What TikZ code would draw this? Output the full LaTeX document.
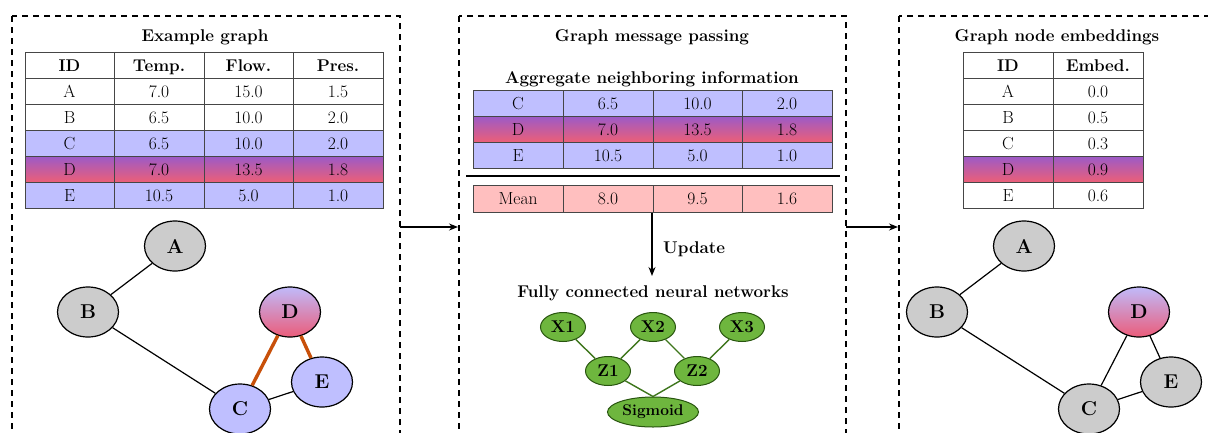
\documentclass[tikz,border=0pt]{standalone}
\usetikzlibrary{shapes.geometric,arrows.meta}
\definecolor{lav}{RGB}{191,191,255}
\definecolor{nodegray}{RGB}{204,204,204}
\definecolor{rowtop}{RGB}{155,90,200}
\definecolor{rowbot}{RGB}{235,95,120}
\definecolor{balltop}{RGB}{192,186,250}
\definecolor{ballbot}{RGB}{235,92,122}
\definecolor{meanpink}{RGB}{255,191,191}
\definecolor{nngreen}{RGB}{110,182,62}
\definecolor{nnedge}{RGB}{62,118,28}
\definecolor{nnborder}{RGB}{40,85,15}
\definecolor{hot}{RGB}{200,80,10}
\definecolor{rule}{RGB}{70,70,70}
\tikzset{
  panel/.style={draw, line width=1.2pt, dash pattern=on 6pt off 5pt},
  title/.style={font=\fontsize{17}{20}\selectfont\bfseries, anchor=base, inner sep=0pt},
  cell/.style={font=\fontsize{17.5}{20}\selectfont, inner sep=0pt, text height=12pt, text depth=0pt},
  headcell/.style={cell, font=\fontsize{17}{20}\selectfont\bfseries},
  gridline/.style={draw=rule, line width=0.9pt},
  gnode/.style={ellipse, draw, line width=1.2pt, minimum width=61pt, minimum height=50pt,
    inner sep=0pt, font=\fontsize{20}{24}\selectfont\bfseries},
  grey/.style={gnode, fill=nodegray},
  lavnode/.style={gnode, fill=lav},
  hotnode/.style={gnode, top color=balltop, bottom color=ballbot},
  plain/.style={line width=1.2pt},
  hotedge/.style={line width=3.4pt, draw=hot},
  nn/.style={ellipse, draw=nnborder, fill=nngreen, line width=1pt, minimum width=45pt,
    minimum height=29pt, inner sep=0pt, font=\fontsize{17}{20}\selectfont\bfseries},
  nnlink/.style={draw=nnedge, line width=1.4pt},
  flow/.style={line width=1.3pt, -{Stealth[length=9pt,width=7pt]}},
}
\begin{document}
\begin{tikzpicture}[x=1pt, y=-1pt]
\useasboundingbox (0,0) rectangle (1208,432);
\fill[white] (0,0) rectangle (1208,432);

% three dashed panels (their lower parts run off the page)
\draw[panel] (12,16) rectangle (400,450);
\draw[panel] (459,16) rectangle (846,450);
\draw[panel] (899,16) rectangle (1220,450);

% arrows between the panels
\coordinate (p1out) at (400,227);
\coordinate (p2in) at (458,227);
\coordinate (p2out) at (846,227);
\coordinate (p3in) at (898,227);
\draw[flow] (p1out) -- (p2in);
\draw[flow] (p2out) -- (p3in);

% ---------------- left panel: example graph ----------------
\node[title] (t1) at (205,41) {Example graph};
\fill[lav] (25,130) rectangle (383,156);
\shade[top color=rowtop, bottom color=rowbot] (25,156) rectangle (383,182);
\fill[lav] (25,182) rectangle (383,208);
\draw[gridline] (25,52) rectangle (383,208);
\foreach \x in {114,204,293} \draw[gridline] (\x,52) -- (\x,208);
\foreach \y in {78,104,130,156,182} \draw[gridline] (25,\y) -- (383,\y);
\node[headcell] (lh1) at (69.5,65) {ID};
\node[headcell] (lh2) at (159,65) {Temp.};
\node[headcell] (lh3) at (248.5,65) {Flow.};
\node[headcell] (lh4) at (338,65) {Pres.};
\foreach [count=\i] \a/\b/\c/\d in {A/7.0/15.0/1.5, B/6.5/10.0/2.0, C/6.5/10.0/2.0, D/7.0/13.5/1.8, E/10.5/5.0/1.0} {
  \node[cell] (l\i a) at (69.5,65+26*\i) {\a};
  \node[cell] (l\i b) at (159,65+26*\i) {\b};
  \node[cell] (l\i c) at (248.5,65+26*\i) {\c};
  \node[cell] (l\i d) at (338,65+26*\i) {\d};
}
\node[grey] (gA) at (175,246) {A};
\node[grey] (gB) at (88,312) {B};
\node[hotnode] (gD) at (290,312) {D};
\node[lavnode] (gE) at (322,382) {E};
\node[lavnode] (gC) at (240,409) {C};
\draw[plain] (gA) -- (gB);
\draw[plain] (gB) -- (gC);
\draw[plain] (gC) -- (gE);
\draw[hotedge] (gD) -- (gC);
\draw[hotedge] (gD) -- (gE);

% ---------------- middle panel: message passing ----------------
\node[title] (t2) at (652,41) {Graph message passing};
\node[title] (t2a) at (652,83) {Aggregate neighboring information};
\fill[lav] (473,90) rectangle (832,116);
\shade[top color=rowtop, bottom color=rowbot] (473,116) rectangle (832,142);
\fill[lav] (473,142) rectangle (832,168);
\draw[gridline] (473,90) rectangle (832,168);
\foreach \x in {563,653,742} \draw[gridline] (\x,90) -- (\x,168);
\foreach \y in {116,142} \draw[gridline] (473,\y) -- (832,\y);
\foreach [count=\i] \a/\b/\c/\d in {C/6.5/10.0/2.0, D/7.0/13.5/1.8, E/10.5/5.0/1.0} {
  \node[cell] (m\i a) at (518,77+26*\i) {\a};
  \node[cell] (m\i b) at (608,77+26*\i) {\b};
  \node[cell] (m\i c) at (697.5,77+26*\i) {\c};
  \node[cell] (m\i d) at (787,77+26*\i) {\d};
}
\draw[line width=2.6pt] (466,176) -- (840,176);
\fill[meanpink] (473,185) rectangle (832,212);
\draw[gridline] (473,185) rectangle (832,212);
\foreach \x in {563,653,742} \draw[gridline] (\x,185) -- (\x,212);
\node[cell] (mean) at (518,198.5) {Mean};
\node[cell] (meanb) at (608,198.5) {8.0};
\node[cell] (meanc) at (697.5,198.5) {9.5};
\node[cell] (meand) at (787,198.5) {1.6};

\coordinate (upstart) at (652,213);
\coordinate (upend) at (652,276);
\draw[flow] (upstart) -- (upend);
\node[title, anchor=base west] (upd) at (663,253) {Update};
\node[title] (t2b) at (653,297) {Fully connected neural networks};

\node[nn] (x1) at (563,327) {X1};
\node[nn] (x2) at (653,327) {X2};
\node[nn] (x3) at (742,327) {X3};
\node[nn] (z1) at (608,371) {Z1};
\node[nn] (z2) at (697,371) {Z2};
\node[nn, minimum width=91pt, minimum height=30pt, font=\fontsize{15.5}{18}\selectfont\bfseries] (sg) at (653,412) {Sigmoid};
\draw[nnlink] (x1) -- (z1);
\draw[nnlink] (x2) -- (z1);
\draw[nnlink] (x2) -- (z2);
\draw[nnlink] (x3) -- (z2);
\draw[nnlink] (z1) -- (sg.north);
\draw[nnlink] (z2) -- (sg.north);

% ---------------- right panel: node embeddings ----------------
\node[title] (t3) at (1057,41) {Graph node embeddings};
\shade[top color=rowtop, bottom color=rowbot] (963,156) rectangle (1143,182);
\draw[gridline] (963,52) rectangle (1143,208);
\draw[gridline] (1053,52) -- (1053,208);
\foreach \y in {78,104,130,156,182} \draw[gridline] (963,\y) -- (1143,\y);
\node[headcell] (rh1) at (1008,65) {ID};
\node[headcell] (rh2) at (1098,65) {Embed.};
\foreach [count=\i] \a/\b in {A/0.0, B/0.5, C/0.3, D/0.9, E/0.6} {
  \node[cell] (r\i a) at (1008,65+26*\i) {\a};
  \node[cell] (r\i b) at (1098,65+26*\i) {\b};
}
\node[grey] (hA) at (1024,246) {A};
\node[grey] (hB) at (937,312) {B};
\node[hotnode] (hD) at (1139,312) {D};
\node[grey] (hE) at (1171,382) {E};
\node[grey] (hC) at (1089,409) {C};
\draw[plain] (hA) -- (hB);
\draw[plain] (hB) -- (hC);
\draw[plain] (hC) -- (hE);
\draw[plain] (hD) -- (hC);
\draw[plain] (hD) -- (hE);
\end{tikzpicture}
\end{document}
